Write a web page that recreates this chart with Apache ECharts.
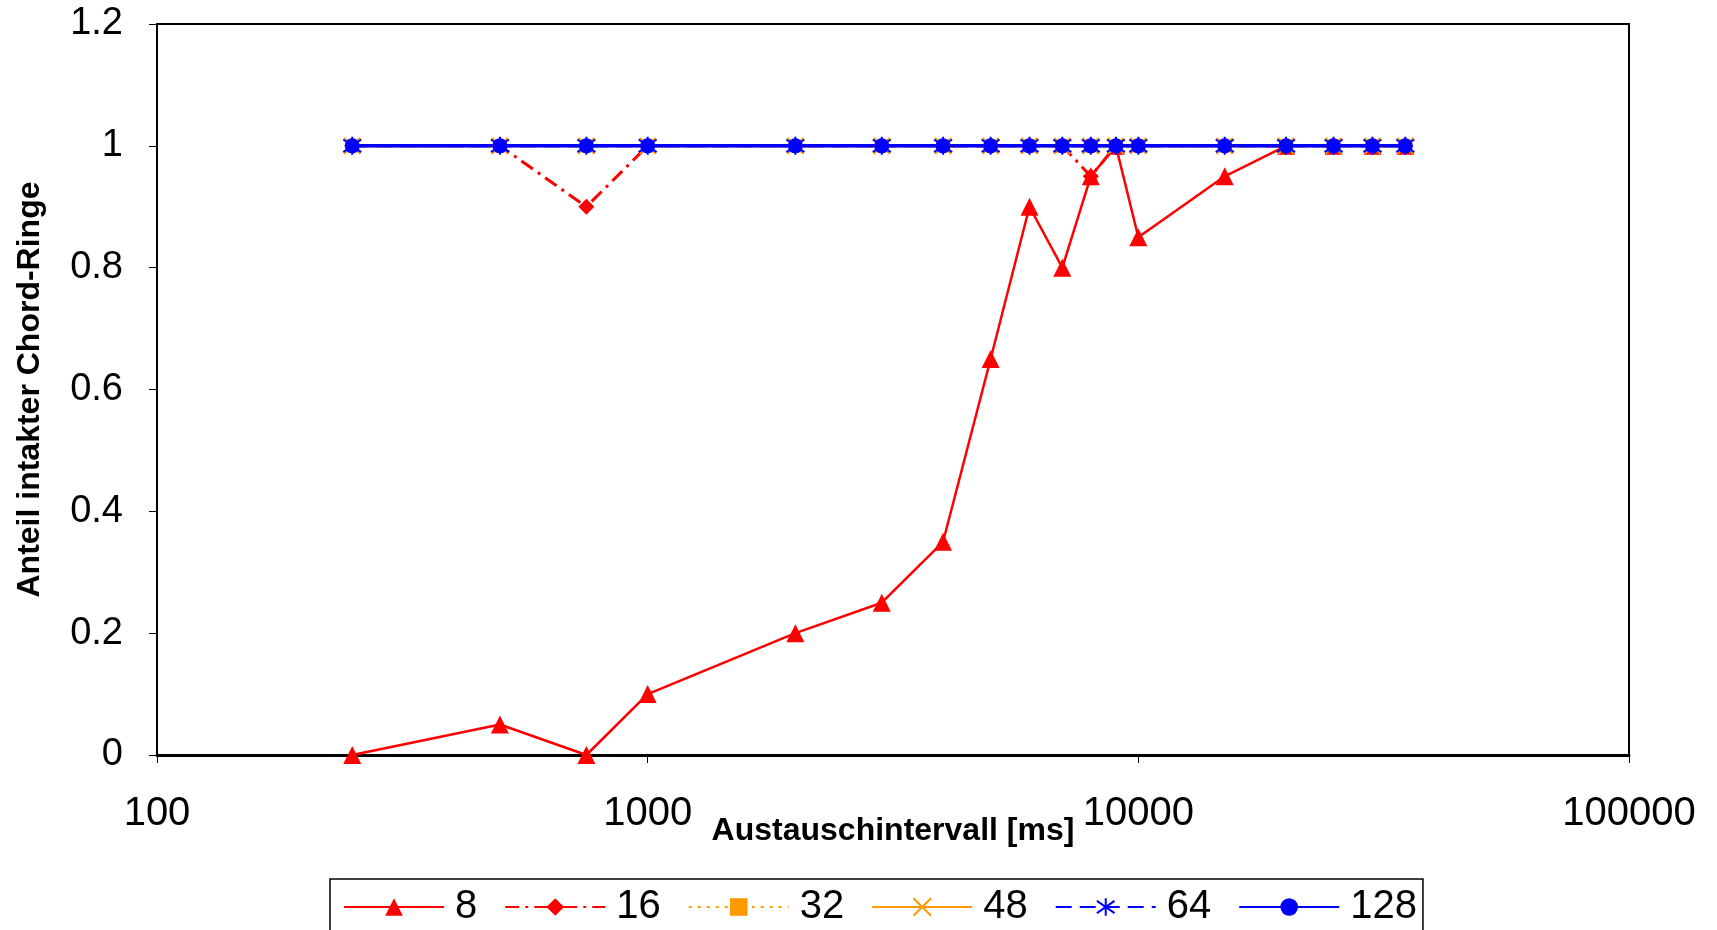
<!DOCTYPE html>
<html>
<head>
<meta charset="utf-8">
<script src="https://cdn.jsdelivr.net/npm/echarts@6/dist/echarts.min.js"></script>
<style>html,body{margin:0;padding:0;background:#fff;}#c{width:1717px;height:930px;}</style>
</head>
<body>
<div id="c"></div>
<script>
const xValues = [250, 500, 750, 1000, 2000, 3000, 4000, 5000, 6000, 7000, 8000, 9000, 10000, 15000, 20000, 25000, 30000, 35000];
const s8   = [0, 0.05, 0, 0.1, 0.2, 0.25, 0.35, 0.65, 0.9, 0.8, 0.95, 1, 0.85, 0.95, 1, 1, 1, 1];
const s16  = [1, 1, 0.9, 1, 1, 1, 1, 1, 1, 1, 0.95, 1, 1, 1, 1, 1, 1, 1];
const s32  = [1, 1, 1, 1, 1, 1, 1, 1, 1, 1, 1, 1, 1, 1, 1, 1, 1, 1];
const s48  = [1, 1, 1, 1, 1, 1, 1, 1, 1, 1, 1, 1, 1, 1, 1, 1, 1, 1];
const s64  = [1, 1, 1, 1, 1, 1, 1, 1, 1, 1, 1, 1, 1, 1, 1, 1, 1, 1];
const s128 = [1, 1, 1, 1, 1, 1, 1, 1, 1, 1, 1, 1, 1, 1, 1, 1, 1, 1];
const seriesNames = ['8', '16', '32', '48', '64', '128'];
const xTitle = 'Austauschintervall [ms]';
const yTitle = 'Anteil intakter Chord-Ringe';

const FONT = 'Liberation Sans';
const pairs = arr => xValues.map((x, i) => [x, arr[i]]);
const RED = '#FF0000', ORANGE = '#FF9900', BLUE = '#0000FF';
const X_PATH = 'path://M0,0 L10,10 M10,0 L0,10';
const AST_PATH = 'path://M5,0 L5,10 M0.5,1.5 L9.5,8.5 M9.5,1.5 L0.5,8.5';

const chart = echarts.init(document.getElementById('c'));
chart.setOption({
  backgroundColor: '#fff',
  animation: false,
  textStyle: { fontFamily: FONT },
  grid: { left: 157, right: 88, top: 24, bottom: 175, show: true, borderColor: '#000', borderWidth: 2, backgroundColor: 'transparent' },
  legend: {
    data: seriesNames,
    left: 330, top: 879,
    width: 1089,
    padding: [8, 6, 30, 13],
    borderColor: '#000', borderWidth: 1.5, borderRadius: 0,
    itemWidth: 100, itemHeight: 22, itemGap: 27,
    textStyle: { fontFamily: FONT, fontSize: 40, color: '#000', padding: [0, 0, 0, 6] }
  },
  xAxis: {
    type: 'log', logBase: 10, min: 100, max: 100000,
    name: xTitle, nameLocation: 'middle', nameGap: 60, nameMoveOverlap: false,
    nameTextStyle: { fontFamily: FONT, fontSize: 32, fontWeight: 'bold', color: '#000' },
    axisLine: { lineStyle: { color: '#000', width: 3 } },
    axisTick: { show: true, inside: false, length: 8, lineStyle: { color: '#000', width: 1 } },
    minorTick: { show: false },
    axisLabel: { fontFamily: FONT, fontSize: 40, color: '#000', margin: 39, formatter: v => String(Math.round(v)) },
    splitLine: { show: false }
  },
  yAxis: {
    type: 'value', min: 0, max: 1.2, interval: 0.2,
    name: yTitle, nameLocation: 'middle', nameGap: 111, nameMoveOverlap: false,
    nameTextStyle: { fontFamily: FONT, fontSize: 32, fontWeight: 'bold', color: '#000' },
    axisLine: { show: true, lineStyle: { color: '#000', width: 2 } },
    axisTick: { show: true, inside: false, length: 8, lineStyle: { color: '#000', width: 1 } },
    axisLabel: { fontFamily: FONT, fontSize: 38, color: '#000', margin: 34 },
    splitLine: { show: false }
  },
  series: [
    { name: seriesNames[0], type: 'line', data: pairs(s8), symbol: 'triangle', symbolSize: 18,
      lineStyle: { color: RED, width: 2.5, type: 'solid' }, itemStyle: { color: RED } },
    { name: seriesNames[1], type: 'line', data: pairs(s16), symbol: 'diamond', symbolSize: 16,
      lineStyle: { color: RED, width: 3, type: [14, 6, 3, 6] }, itemStyle: { color: RED } },
    { name: seriesNames[2], type: 'line', data: pairs(s32), symbol: 'rect', symbolSize: 13,
      lineStyle: { color: ORANGE, width: 3, type: [3, 6] }, itemStyle: { color: ORANGE } },
    { name: seriesNames[3], type: 'line', data: pairs(s48), symbol: X_PATH, symbolSize: 16,
      lineStyle: { color: ORANGE, width: 3, type: 'solid' }, itemStyle: { color: ORANGE, borderColor: ORANGE, borderWidth: 2 } },
    { name: seriesNames[4], type: 'line', data: pairs(s64), symbol: AST_PATH, symbolSize: 18,
      lineStyle: { color: BLUE, width: 3, type: [16, 8] }, itemStyle: { color: BLUE, borderColor: BLUE, borderWidth: 2 } },
    { name: seriesNames[5], type: 'line', data: pairs(s128), symbol: 'circle', symbolSize: 15,
      lineStyle: { color: BLUE, width: 3.5, type: 'solid' }, itemStyle: { color: BLUE } }
  ]
});
</script>
</body>
</html>
